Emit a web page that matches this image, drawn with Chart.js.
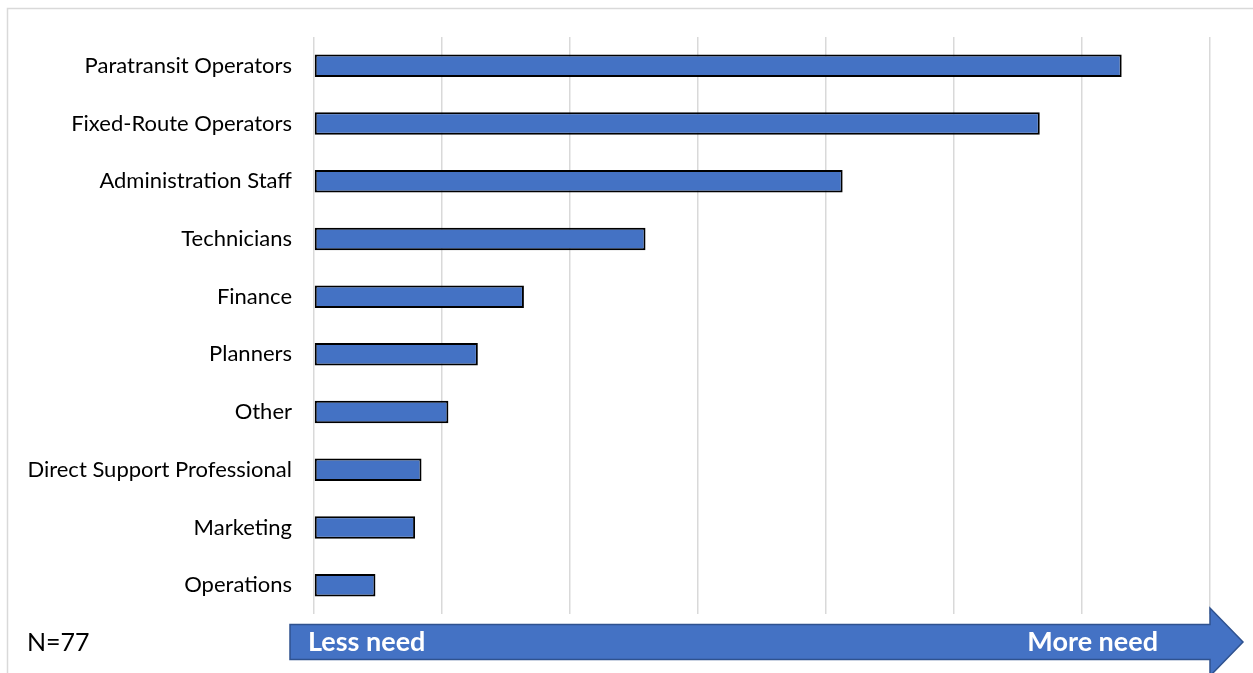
<!DOCTYPE html>
<html>
<head>
<meta charset="utf-8">
<script src="https://cdn.jsdelivr.net/npm/chart.js@4/dist/chart.umd.min.js"></script>
<style>
html,body{margin:0;padding:0;background:#fff;}
#wrap{width:1253px;height:673px;position:relative;}
</style>
</head>
<body>
<div id="wrap"><canvas id="c" width="1253" height="673"></canvas></div>
<script>
const categories = ["Paratransit Operators","Fixed-Route Operators","Administration Staff","Technicians","Finance","Planners","Other","Direct Support Professional","Marketing","Operations"];
const values = [6.31, 5.67, 4.13, 2.59, 1.64, 1.28, 1.05, 0.84, 0.79, 0.48];
const axisMax = 7;
const noteText = "N=77";
const arrowLeftText = "Less need";
const arrowRightText = "More need";

const FONT = "Lato, 'Open Sans', sans-serif";

const decor = {
  id: 'decor',
  beforeDraw(chart) {
    const ctx = chart.ctx;
    ctx.save();
    ctx.strokeStyle = '#d9d9d9';
    ctx.lineWidth = 1.5;
    ctx.beginPath();
    ctx.moveTo(7.5, 673);
    ctx.lineTo(7.5, 8.5);
    ctx.lineTo(1253, 8.5);
    ctx.stroke();
    ctx.restore();
  },
  afterDraw(chart) {
    const ctx = chart.ctx;
    const x = chart.scales.x;
    const x0 = x.getPixelForValue(0) - 24;
    const x1 = x.getPixelForValue(axisMax);
    const tip = x1 + 33;
    const cy = 642;
    const bh = 17.5;
    const hh = 34;
    ctx.save();
    ctx.beginPath();
    ctx.moveTo(x0, cy - bh);
    ctx.lineTo(x1, cy - bh);
    ctx.lineTo(x1, cy - hh);
    ctx.lineTo(tip, cy);
    ctx.lineTo(x1, cy + hh);
    ctx.lineTo(x1, cy + bh);
    ctx.lineTo(x0, cy + bh);
    ctx.closePath();
    ctx.fillStyle = '#4472C4';
    ctx.fill();
    ctx.strokeStyle = '#2F528F';
    ctx.lineWidth = 1.5;
    ctx.stroke();
    ctx.fillStyle = '#ffffff';
    ctx.font = "bold 27px " + FONT;
    ctx.textBaseline = 'middle';
    ctx.textAlign = 'left';
    ctx.fillText(arrowLeftText, x0 + 18, cy);
    ctx.textAlign = 'right';
    ctx.fillText(arrowRightText, x1 - 52, cy);
    ctx.fillStyle = '#000';
    ctx.font = "25px " + FONT;
    ctx.textAlign = 'left';
    ctx.fillText(noteText, 27, cy + 1);
    ctx.restore();
  }
};

new Chart(document.getElementById('c'), {
  type: 'bar',
  data: {
    labels: categories,
    datasets: [{
      data: values,
      backgroundColor: '#4472C4',
      borderColor: '#000000',
      borderWidth: 2,
      borderSkipped: false,
      barPercentage: 0.39,
      categoryPercentage: 1.0
    }]
  },
  options: {
    indexAxis: 'y',
    responsive: false,
    animation: false,
    layout: { padding: { top: 37, bottom: 59, right: 43, left: 0 } },
    plugins: { legend: { display: false }, tooltip: { enabled: false } },
    scales: {
      x: {
        min: 0, max: axisMax,
        ticks: { display: false, stepSize: 1 },
        grid: { color: '#d9d9d9', lineWidth: 1.5, drawTicks: false },
        border: { display: false }
      },
      y: {
        afterFit(s) { s.width = 314; },
        ticks: { color: '#000', font: { family: FONT, size: 22 }, padding: 22 },
        grid: { display: false, drawTicks: false },
        border: { display: false }
      }
    }
  },
  plugins: [decor]
});
</script>
</body>
</html>
